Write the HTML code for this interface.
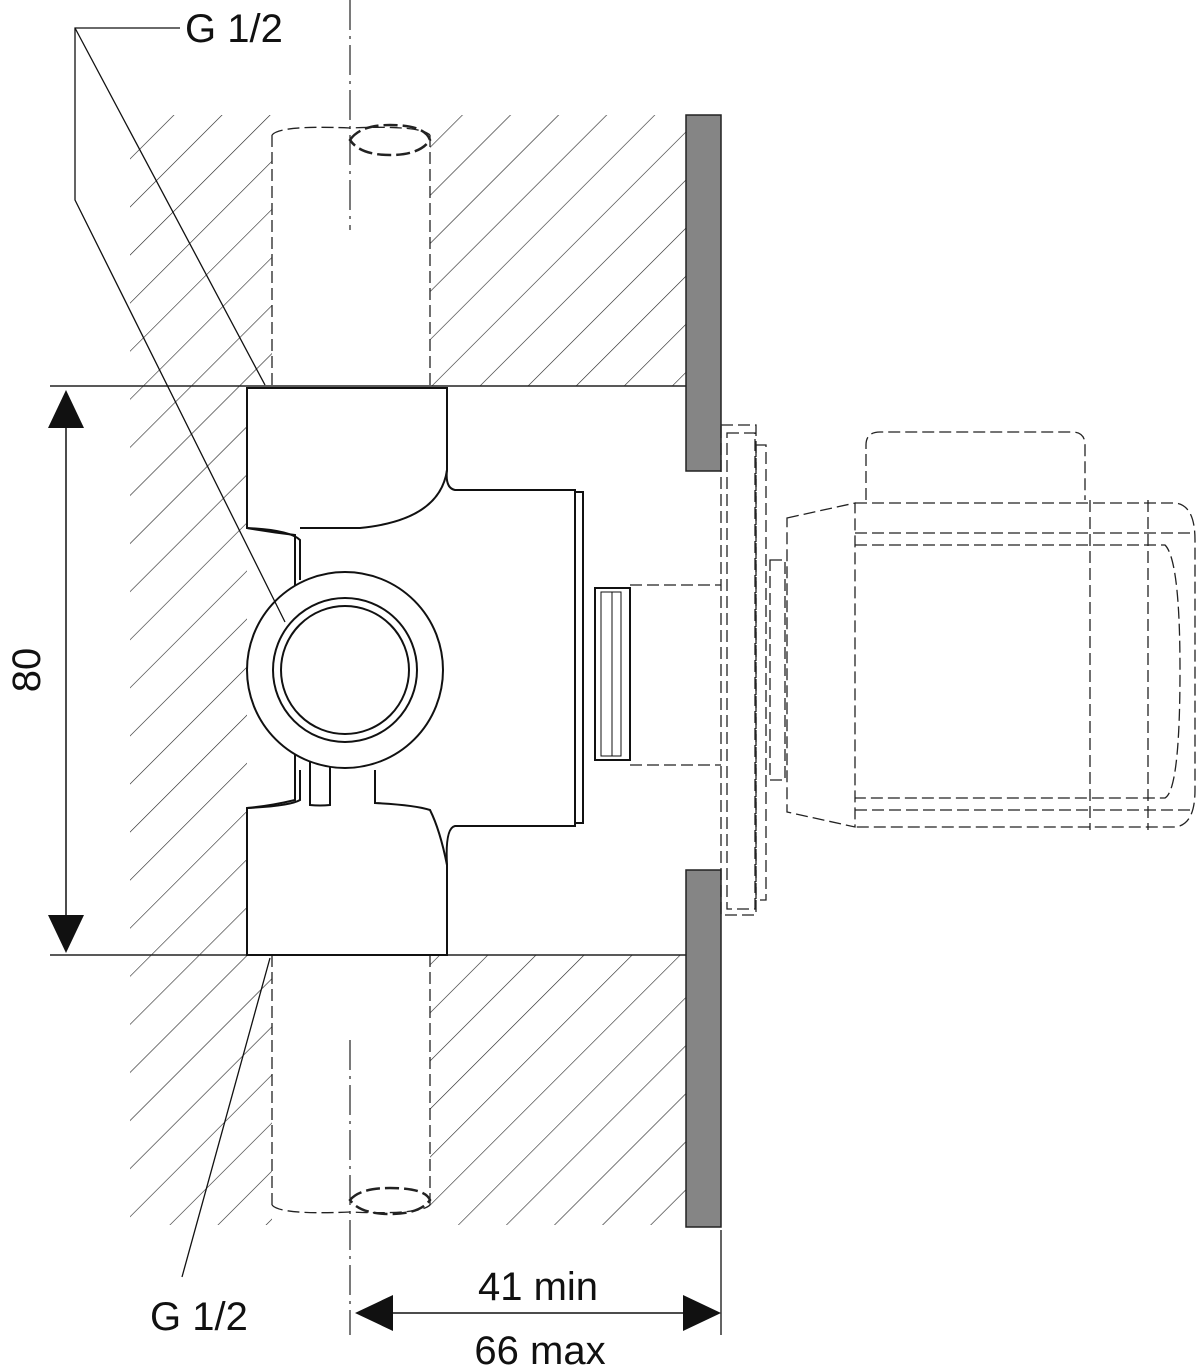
<!DOCTYPE html>
<html><head><meta charset="utf-8"><style>
html,body{margin:0;padding:0;background:#fff;}
svg{display:block;}
text{font-family:"Liberation Sans",sans-serif;fill:#111;}
</style></head><body>
<svg width="1200" height="1371" viewBox="0 0 1200 1371" xmlns="http://www.w3.org/2000/svg">
<defs>
<pattern id="h" patternUnits="userSpaceOnUse" width="34" height="34" patternTransform="rotate(45)">
<line x1="0" y1="0" x2="0" y2="34" stroke="#222" stroke-width="1.2"/>
</pattern>
<clipPath id="c">
<path d="M130 115 H272 V386 H130 Z M430 115 H686 V386 H430 Z M130 386 H247 V955 H130 Z M130 955 H272 V1225 H130 Z M430 955 H686 V1225 H430 Z"/>
</clipPath>
</defs>
<rect x="130" y="115" width="556" height="1110" fill="url(#h)" clip-path="url(#c)"/>
<!-- wall plates -->
<rect x="686" y="115" width="35" height="356" fill="#858585" stroke="#222" stroke-width="1.5"/>
<rect x="686" y="870" width="35" height="357" fill="#858585" stroke="#222" stroke-width="1.5"/>
<!-- horizontal lines -->
<line x1="50" y1="386" x2="686" y2="386" stroke="#222" stroke-width="1.5"/>
<line x1="50" y1="955" x2="686" y2="955" stroke="#222" stroke-width="1.5"/>
<!-- pipes -->
<g stroke="#222" stroke-width="1.3" fill="none" stroke-dasharray="12,5">
<line x1="272" y1="135" x2="272" y2="386"/><line x1="430" y1="135" x2="430" y2="386"/>
<line x1="272" y1="955" x2="272" y2="1205"/><line x1="430" y1="955" x2="430" y2="1205"/>
<path d="M272 135 Q280 125 350 128 Q420 125 430 135"/>
<path d="M272 1205 Q280 1215 350 1212 Q420 1215 430 1205"/>
</g>
<path d="M350 140 Q360 125 390 125 Q425 125 430 140 Q420 155 390 155 Q360 155 350 140Z" fill="none" stroke="#222" stroke-width="2.5" stroke-dasharray="14,5"/>
<path d="M350 1200 Q360 1188 390 1188 Q425 1188 430 1200 Q420 1214 390 1214 Q360 1214 350 1200Z" fill="none" stroke="#222" stroke-width="2.5" stroke-dasharray="14,5"/>
<!-- centerlines -->
<g stroke="#222" stroke-width="1.2" stroke-dasharray="30,6,3,6">
<line x1="350" y1="0" x2="350" y2="230"/>
<line x1="350" y1="1040" x2="350" y2="1335"/>
</g>
<!-- valve body -->
<g stroke="#111" stroke-width="2" fill="#fff">
<path d="M575 490 H455 Q445 488 447 470 V388 H247 V528 Q270 532 295 535 V800 Q270 806 247 808 V955 H447 V865 Q445 828 455 826 H575 Z"/>
<path d="M447 470 Q440 520 360 528 H300" fill="none"/>
<path d="M447 865 Q440 830 430 810 Q415 805 375 803 V770" fill="none"/>
<path d="M247 528 Q290 530 300 540 V580" fill="none"/>
<path d="M247 808 Q290 806 300 800 V770" fill="none"/>
<path d="M310 760 V805 Q320 806 330 805 V765" fill="none"/>
<rect x="575" y="492" width="8" height="331"/>
<circle cx="345" cy="670" r="98"/>
<circle cx="345" cy="670" r="72"/>
<circle cx="345" cy="670" r="64"/>
<rect x="595" y="588" width="35" height="172"/>
<rect x="601" y="592" width="20" height="164" fill="none" stroke-width="1"/>
<line x1="612" y1="592" x2="612" y2="756" stroke-width="1"/>
</g>
<!-- dashed fitting & handle -->
<g stroke="#222" stroke-width="1.3" fill="none" stroke-dasharray="12,5">
<path d="M630 585 H721 M630 765 H721"/>
<rect x="721" y="425" width="35" height="490"/>
<rect x="727" y="433" width="28" height="476"/>
<rect x="756" y="445" width="10" height="455"/>
<path d="M770 560 H785 V780 H770Z"/>
<path d="M787 518 L855 503 V827 L787 812Z"/>
<path d="M866 500 V445 Q866 432 880 432 H1072 Q1085 432 1085 445 V500"/>
<path d="M855 503 H1175 Q1195 505 1195 540 V790 Q1195 825 1175 827 H855"/>
<path d="M855 533 H1190 M855 545 H1165 Q1180 560 1180 670 Q1180 790 1165 798 H855 M855 810 H1190"/>
<line x1="1090" y1="500" x2="1090" y2="830"/>
<line x1="1148" y1="500" x2="1148" y2="830"/>
</g>
<!-- vertical dimension -->
<line x1="66" y1="420" x2="66" y2="920" stroke="#111" stroke-width="1.5"/>
<polygon points="66,390 48,428 84,428" fill="#111"/>
<polygon points="66,953 48,915 84,915" fill="#111"/>
<text x="40" y="670" font-size="40" transform="rotate(-90 40 670)" text-anchor="middle">80</text>
<!-- horizontal dimension -->
<line x1="721" y1="1230" x2="721" y2="1335" stroke="#111" stroke-width="1.3"/>
<line x1="390" y1="1313" x2="690" y2="1313" stroke="#111" stroke-width="1.5"/>
<polygon points="355,1313 393,1295 393,1331" fill="#111"/>
<polygon points="721,1313 683,1295 683,1331" fill="#111"/>
<text x="538" y="1300" font-size="40" text-anchor="middle">41 min</text>
<text x="540" y="1364" font-size="40" text-anchor="middle">66 max</text>
<!-- labels -->
<g stroke="#111" stroke-width="1.3" fill="none">
<path d="M180 28 H75 V200 L285 622"/>
<line x1="75" y1="28" x2="265" y2="385"/>
<line x1="270" y1="958" x2="182" y2="1277"/>
</g>
<text x="185" y="42" font-size="40">G 1/2</text>
<text x="150" y="1330" font-size="40">G 1/2</text>
</svg>
</body></html>
